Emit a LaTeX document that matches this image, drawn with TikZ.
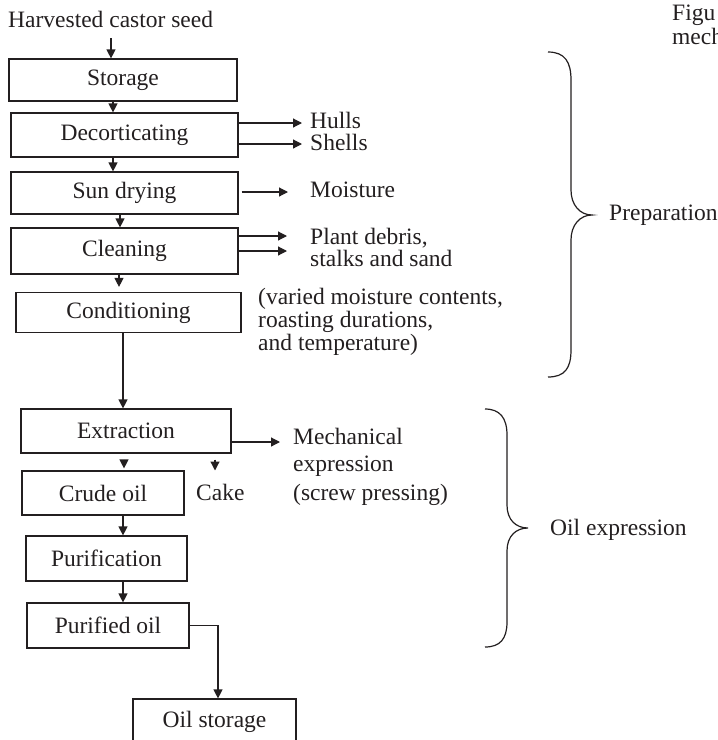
\documentclass[tikz,border=0pt]{standalone}
\usepackage{fontspec}
\setmainfont{Liberation Serif}
\usetikzlibrary{arrows.meta}
\definecolor{ink}{HTML}{231F20}
\begin{document}
\begin{tikzpicture}[x=1pt,y=-1pt,
  every node/.style={text=ink,font=\fontsize{23.5}{28}\selectfont},
  box/.style={draw=ink,line width=1.2pt,inner sep=0pt,align=center},
  lbl/.style={inner sep=0pt,anchor=base west},
  line/.style={draw=ink,line width=1.2pt},
  arr/.style={line,-{Triangle[length=9pt,width=9pt]}},
  brace/.style={draw=ink,line width=1.2pt}]
\useasboundingbox (0,0) rectangle (718,740);
\clip (0,0) rectangle (718,740);

% process boxes
\node[lbl] (harv) at (8,27) {Harvested castor seed};
\node[box,minimum width=228pt,minimum height=42pt] (storage) at (123,80) {Storage};
\node[box,minimum width=227pt,minimum height=44pt] (decort) at (124.5,135) {Decorticating};
\node[box,minimum width=227pt,minimum height=42pt] (sun) at (124.5,193) {Sun drying};
\node[box,minimum width=227pt,minimum height=46pt] (clean) at (124.5,251) {Cleaning};
\node[box,minimum width=225pt,minimum height=40pt] (cond) at (128.5,312.5) {Conditioning};
\node[box,minimum width=210pt,minimum height=44pt] (extr) at (126,431) {Extraction};
\node[box,minimum width=162pt,minimum height=44pt] (crude) at (103,493) {Crude oil};
\node[box,minimum width=161pt,minimum height=45pt] (purif) at (106.5,558.5) {Purification};
\node[box,minimum width=162pt,minimum height=45pt] (purified) at (108,625.5) {Purified oil};
\node[box,minimum width=163pt,minimum height=46pt] (oilst) at (214.5,722) {Oil storage};

% side labels
\node[lbl] (hulls) at (310,128) {Hulls};
\node[lbl] (shells) at (310,150) {Shells};
\node[lbl] (moist) at (310,197) {Moisture};
\node[lbl] (plant) at (310,244) {Plant debris,};
\node[lbl] (stalks) at (310,266) {stalks and sand};
\node[lbl] (note1) at (258,304) {(varied moisture contents,};
\node[lbl] (note2) at (258,327) {roasting durations,};
\node[lbl] (note3) at (258,350) {and temperature)};
\node[lbl] (mech1) at (293,444) {Mechanical};
\node[lbl] (mech2) at (293,471) {expression};
\node[lbl] (mech3) at (293,500) {(screw pressing)};
\node[lbl] (cake) at (196,500) {Cake};
\node[lbl] (prep) at (609,220) {Preparation};
\node[lbl] (oilexp) at (550,535) {Oil expression};
\node[lbl] (fig1) at (672,20) {Figu};
\node[lbl] (fig2) at (672,44) {mech};

% arrow x positions
\coordinate (a1) at (111,0);
\coordinate (a2) at (113,0);
\coordinate (a3) at (113,0);
\coordinate (a4) at (120,0);
\coordinate (a5) at (119,0);
\coordinate (a6) at (123,0);
\coordinate (a7) at (124,0);
\coordinate (a8) at (215,0);
\coordinate (a9) at (123,0);
\coordinate (a10) at (123,0);
\coordinate (a11) at (218,0);

% vertical flow
\draw[arr,shorten <=11pt] (harv.south -| a1) -- (storage.north -| a1);
\draw[arr] (storage.south -| a2) -- (decort.north -| a2);
\draw[arr] (decort.south -| a3) -- (sun.north -| a3);
\draw[arr] (sun.south -| a4) -- (clean.north -| a4);
\draw[arr,shorten >=5pt] (clean.south -| a5) -- (cond.north -| a5);
\draw[arr] (cond.south -| a6) -- (extr.north -| a6);
\draw[arr,shorten <=6pt,shorten >=2pt] (extr.south -| a7) -- (crude.north -| a7);
\draw[arr,shorten <=6pt] (extr.south -| a8) -- ([yshift=13pt]cake.north -| a8);
\draw[arr] (crude.south -| a9) -- (purif.north -| a9);
\draw[arr] (purif.south -| a10) -- (purified.north -| a10);
\draw[arr] (purified.east) -| (oilst.north -| a11);

% side arrows
\coordinate (hullsin) at ([xshift=-8pt,yshift=5pt]hulls.base west);
\coordinate (shellsin) at ([xshift=-8pt,yshift=6pt]shells.base west);
\coordinate (moistin) at ([xshift=-22pt,yshift=5pt]moist.base west);
\coordinate (plantin) at ([xshift=-23pt,yshift=8pt]plant.base west);
\coordinate (stalksin) at ([xshift=-23pt,yshift=15pt]stalks.base west);
\coordinate (mechin) at ([xshift=-13pt,yshift=2pt]mech1.base west);
\draw[arr] (decort.east |- hullsin) -- (hullsin);
\draw[arr] (decort.east |- shellsin) -- (shellsin);
\draw[arr,shorten <=3pt] (sun.east |- moistin) -- (moistin);
\draw[arr] (clean.east |- plantin) -- (plantin);
\draw[arr] (clean.east |- stalksin) -- (stalksin);
\draw[arr] (extr.east |- mechin) -- (mechin);

% braces
\draw[brace] (548,52) .. controls (565,52) and (571,62) .. (571,80) -- (571,190)
  .. controls (571,205) and (580,215) .. (592,215)
  .. controls (580,215) and (571,225) .. (571,240) -- (571,350)
  .. controls (571,368) and (565,377) .. (548,377);
\draw[brace] (485,409) .. controls (500,409) and (507,418) .. (507,435) -- (507,505)
  .. controls (507,520) and (516,528) .. (528,528)
  .. controls (516,528) and (507,536) .. (507,551) -- (507,622)
  .. controls (507,639) and (500,647) .. (485,647);
\end{tikzpicture}
\end{document}
